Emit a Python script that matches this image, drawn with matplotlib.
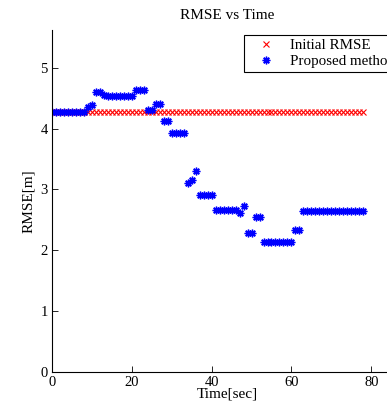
import matplotlib
matplotlib.use("Agg")
import matplotlib.pyplot as plt

plt.rcParams['font.family'] = ['Liberation Serif', 'DejaVu Serif']
plt.rcParams['font.size'] = 10

# time stamps [sec]
time_sec = list(range(79))

# initial RMSE (constant)
initial_rmse = [4.28] * 79

# proposed method RMSE
proposed_rmse = [
    4.28, 4.28, 4.28, 4.28, 4.28, 4.28, 4.28, 4.28, 4.28,
    4.36, 4.39, 4.60, 4.60, 4.56,
    4.54, 4.54, 4.54, 4.54, 4.54, 4.54, 4.54,
    4.64, 4.64, 4.64,
    4.31, 4.31, 4.41, 4.41, 4.13, 4.13,
    3.92, 3.92, 3.92, 3.92,
    3.11, 3.16, 3.31,
    2.91, 2.91, 2.91, 2.91,
    2.67, 2.67, 2.67, 2.67, 2.67, 2.67,
    2.61, 2.73,
    2.29, 2.29, 2.54, 2.54,
    2.14, 2.14, 2.14, 2.14, 2.14, 2.14, 2.14, 2.14,
    2.34, 2.34,
    2.65, 2.65, 2.65, 2.65, 2.65, 2.65, 2.65, 2.65,
    2.65, 2.65, 2.65, 2.65, 2.65, 2.65, 2.65, 2.65,
]

fig = plt.figure(figsize=(3.87, 4.04), dpi=100)
ax = fig.add_axes([52/387, 1 - 372/404, 350/387, 342/404])

# matlab style asterisk: 8 spokes
asterisk = (8, 2, 0)

ax.plot(time_sec, initial_rmse, 'x', color='red', markersize=4,
        markeredgewidth=0.8, label='Initial RMSE')
ax.plot(time_sec, proposed_rmse, linestyle='none', marker=asterisk,
        color='blue', markersize=5.5, markeredgewidth=1.0,
        label='Proposed method')

ax.set_xlim(0, 87.7)
ax.set_ylim(0, 5.62)
ax.set_xticks([0, 20, 40, 60, 80])
ax.set_yticks([0, 1, 2, 3, 4, 5])
ax.tick_params(direction='in', length=4, width=0.6, pad=3, labelsize=10.5)
ax.spines['top'].set_visible(False)
ax.spines['right'].set_visible(False)
for s in ['left', 'bottom']:
    ax.spines[s].set_linewidth(0.8)

ax.set_title('RMSE vs Time', pad=8, fontsize=11)
ax.set_xlabel('Time[sec]', labelpad=-1, fontsize=11)
ax.set_ylabel('RMSE[m]', labelpad=4, fontsize=11)

leg = ax.legend(loc='upper left', bbox_to_anchor=(244/387, 1 - 35/404),
                bbox_transform=fig.transFigure, fancybox=False,
                edgecolor='black', framealpha=1, borderaxespad=0,
                handlelength=2.4, handletextpad=0.4, borderpad=0.25,
                labelspacing=0.15, fontsize=10.8)
leg.get_frame().set_linewidth(0.8)

fig.savefig('out.png', dpi=100)
